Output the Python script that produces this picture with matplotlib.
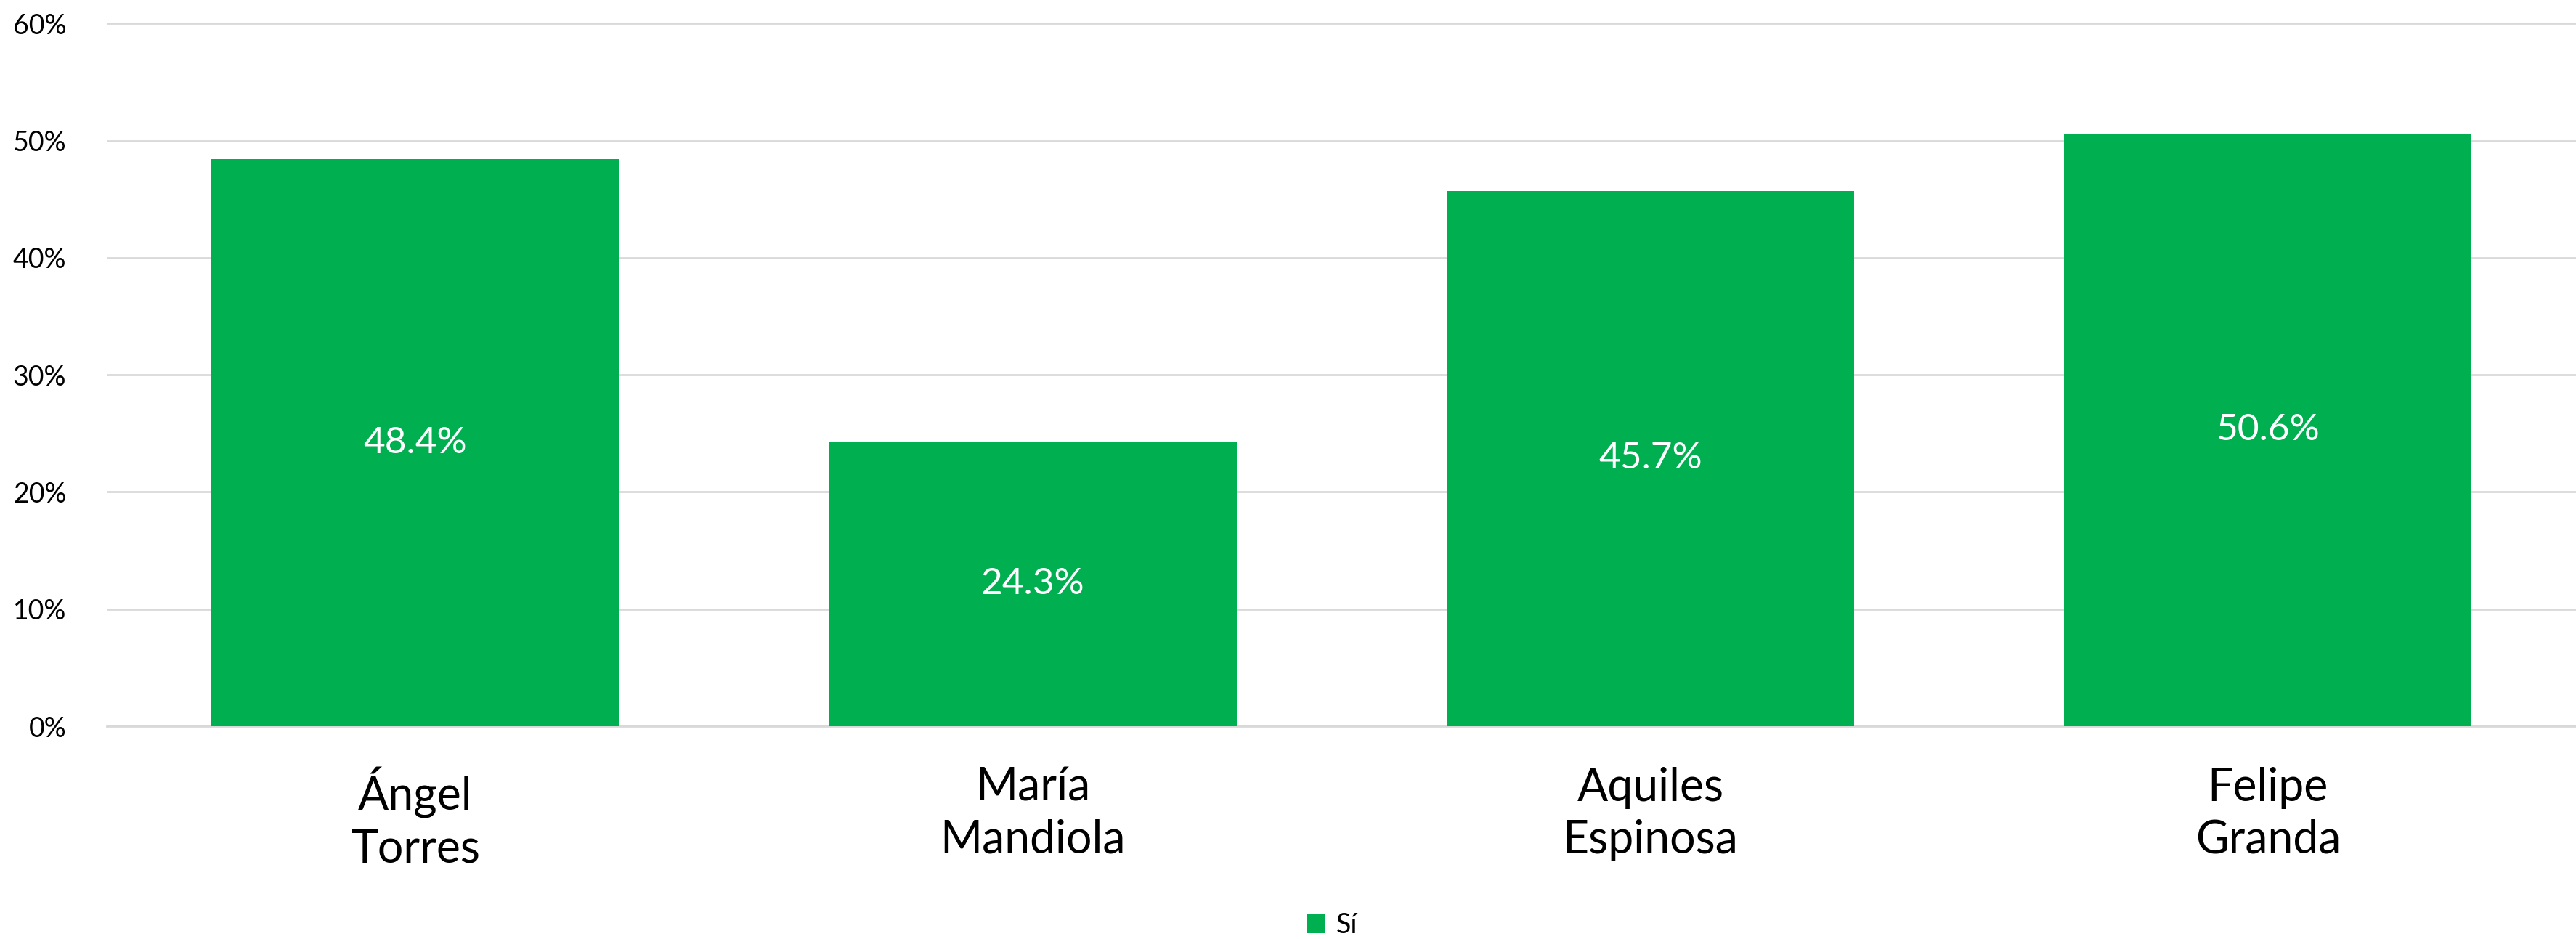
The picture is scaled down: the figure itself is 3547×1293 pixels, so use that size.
import matplotlib
matplotlib.use("Agg")
import matplotlib.pyplot as plt
from matplotlib.patches import Patch
from matplotlib.ticker import FuncFormatter

candidates = ["Ángel\nTorres", "María\nMandiola", "Aquiles\nEspinosa", "Felipe\nGranda"]
si_values = [48.4, 24.3, 45.7, 50.6]
y_ticks = [0, 10, 20, 30, 40, 50, 60]
series_name = "Sí"

green = "#00B050"
grid_color = "#D9D9D9"

plt.rcParams['font.family'] = ['Lato', 'DejaVu Sans']

fig = plt.figure(figsize=(35.48, 12.93), dpi=100)
ax = fig.add_axes([0.0414, 0.2266, 0.9586, 0.7484])

x = range(len(candidates))
bars = ax.bar(x, si_values, width=0.66, color=green, zorder=3)

for b, v in zip(bars, si_values):
    ax.text(b.get_x() + b.get_width() / 2, v / 2, f"{v:.1f}%",
            ha='center', va='center', color='white', fontsize=37)

ax.set_xlim(-0.5, len(candidates) - 0.5)
ax.set_ylim(0, 60)
ax.set_yticks(y_ticks)
ax.yaxis.set_major_formatter(FuncFormatter(lambda v, p: f"{v:.0f}%"))
ax.set_xticks(list(x))
ax.set_xticklabels(candidates, fontsize=45, linespacing=1.3)

ax.grid(axis='y', color=grid_color, linewidth=2, zorder=0)
for s in ['top', 'right', 'left']:
    ax.spines[s].set_visible(False)
ax.spines['bottom'].set_color(grid_color)
ax.spines['bottom'].set_linewidth(2)
ax.tick_params(axis='y', length=0, labelsize=27, pad=40)
ax.tick_params(axis='x', length=0, pad=40)

handle = Patch(facecolor=green, label=series_name)
fig.legend(handles=[handle], loc='center', bbox_to_anchor=(0.517, 0.015),
           frameon=False, fontsize=27, handlelength=0.7, handleheight=0.7,
           handletextpad=0.4)

fig.savefig("out.png", dpi=100)
